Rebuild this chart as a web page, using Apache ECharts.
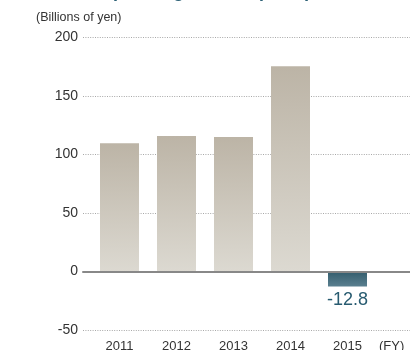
<!DOCTYPE html>
<html>
<head>
<meta charset="utf-8">
<script src="https://cdn.jsdelivr.net/npm/echarts@6/dist/echarts.min.js"></script>
<style>
  html, body { margin: 0; padding: 0; background: #fff; }
  #chart { width: 410px; height: 350px; }
</style>
</head>
<body>
<div id="chart"></div>
<script>
// Fiscal years and results (billions of yen)
const years = ['2011', '2012', '2013', '2014', '2015'];
const values = [109.7, 115.8, 114.9, 175.5, -12.8];
const yTicks = { min: -50, max: 200, interval: 50 };
const unitLabel = '(Billions of yen)';
const periodLabel = '(FY)';
const titleText = 'Operating Income (Loss)';

const FONT = '"Liberation Sans", Arial, Helvetica, sans-serif';

const positiveFill = new echarts.graphic.LinearGradient(0, 0, 0, 1, [
  { offset: 0, color: '#bcb4a6' },
  { offset: 1, color: '#dcd9d1' }
]);
const negativeFill = new echarts.graphic.LinearGradient(0, 0, 0, 1, [
  { offset: 0, color: '#335d6d' },
  { offset: 1, color: '#5a7f8f' }
]);

const barData = values.map(v => ({
  value: v,
  itemStyle: { color: v < 0 ? negativeFill : positiveFill },
  label: v < 0 ? {
    show: true,
    position: 'bottom',
    distance: 5,
    formatter: '{c}',
    color: '#285b70',
    fontSize: 18,
    fontFamily: FONT
  } : { show: false }
}));

const chart = echarts.init(document.getElementById('chart'), null, { renderer: 'canvas' });

chart.setOption({
  animation: false,
  backgroundColor: '#ffffff',
  textStyle: { fontFamily: FONT },
  graphic: [
    {
      type: 'text',
      left: 'center',
      top: -17,
      style: { text: titleText, font: 'bold 18px ' + FONT, fill: '#2d6176' }
    },
    {
      type: 'text',
      left: 36,
      top: 11,
      style: { text: unitLabel, font: '12.5px ' + FONT, fill: '#333' }
    },
    {
      type: 'text',
      left: 379,
      top: 340,
      style: { text: periodLabel, font: '13px ' + FONT, fill: '#333' }
    }
  ],
  grid: [
    // value scale, gridlines and zero line
    { left: 83, right: 0, top: 37.5, bottom: 20, outerBoundsMode: 'none', containLabel: false },
    // bars
    { left: 91, right: 34, top: 37.5, bottom: 20, outerBoundsMode: 'none', containLabel: false }
  ],
  xAxis: [
    {
      type: 'value',
      gridIndex: 0,
      min: 0,
      max: 1,
      z: 5,
      axisLine: { show: true, onZero: true, lineStyle: { color: '#888', width: 2 } },
      axisTick: { show: false },
      axisLabel: { show: false },
      splitLine: { show: false }
    },
    {
      type: 'category',
      gridIndex: 1,
      data: years,
      position: 'bottom',
      axisLine: { show: false, onZero: false },
      axisTick: { show: false },
      axisLabel: { color: '#333', fontSize: 13, margin: 10, fontFamily: FONT },
      splitLine: { show: false }
    }
  ],
  yAxis: [
    {
      type: 'value',
      gridIndex: 0,
      min: yTicks.min,
      max: yTicks.max,
      interval: yTicks.interval,
      axisLine: { show: false },
      axisTick: { show: false },
      axisLabel: { color: '#333', fontSize: 14, margin: 5, fontFamily: FONT },
      splitLine: { show: true, lineStyle: { color: '#a8a8a8', width: 1, type: [1, 1.4] } }
    },
    {
      type: 'value',
      gridIndex: 1,
      min: yTicks.min,
      max: yTicks.max,
      interval: yTicks.interval,
      show: false,
      splitLine: { show: false }
    }
  ],
  series: [
    {
      type: 'bar',
      xAxisIndex: 1,
      yAxisIndex: 1,
      data: barData,
      barWidth: 39
    }
  ]
});
</script>
</body>
</html>
